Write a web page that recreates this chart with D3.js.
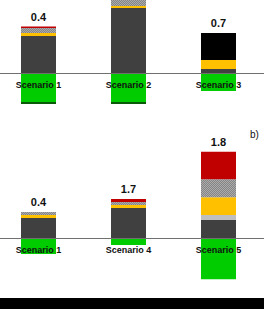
<!DOCTYPE html>
<html>
<head>
<meta charset="utf-8">
<script src="https://cdn.jsdelivr.net/npm/d3@7"></script>
<style>
  body { margin: 0; background: #fff; }
  svg { display: block; }
</style>
</head>
<body>
<div id="chart"></div>
<script>
// Segment keys, bottom of stack first
var keys = ['dark', 'lightgrey', 'yellow', 'hatch', 'red', 'black', 'green', 'darkgreen']

// Panel a)
var scenariosA = ['Scenario 1', 'Scenario 2', 'Scenario 3']
var totalsA = ['0.4', '', '0.7']
var darkA = [1.48, 2.6, 0.16]
var lightgreyA = [0, 0, 0]
var yellowA = [0.12, 0.08, 0.36]
var hatchA = [0.2, 0.32, 0]
var redA = [0.06, 0, 0]
var blackA = [0, 0, 1.08]
var greenA = [-1.16, -1.16, -0.72]
var darkgreenA = [-0.08, -0.08, 0]

// Panel b)
var scenariosB = ['Scenario 1', 'Scenario 4', 'Scenario 5']
var totalsB = ['0.4', '1.7', '1.8']
var darkB = [0.8, 1.2, 0.72]
var lightgreyB = [0, 0, 0.2]
var yellowB = [0.12, 0.12, 0.71]
var hatchB = [0.12, 0.12, 0.72]
var redB = [0, 0.12, 1.1]
var blackB = [0, 0, 0]
var greenB = [-0.64, -0.28, -1.65]
var darkgreenB = [0, 0, 0]

var width = 264
var height = 309
var barWidth = 35

var colors = {
  dark: '#404040',
  lightgrey: '#bfbfbf',
  yellow: '#ffc000',
  hatch: 'url(#hatch)',
  red: '#c00000',
  black: '#000000',
  green: '#00cc00',
  darkgreen: '#0a5a0a'
}

var svg = d3.select('#chart').append('svg')
  .attr('width', width)
  .attr('height', height)

// Fine grey texture for the hatched segment
var defs = svg.append('defs')
var pat = defs.append('pattern')
  .attr('id', 'hatch')
  .attr('width', 2)
  .attr('height', 2)
  .attr('patternUnits', 'userSpaceOnUse')
pat.append('rect').attr('width', 2).attr('height', 2).attr('fill', '#858585')
pat.append('rect').attr('width', 1).attr('height', 1).attr('fill', '#ababab')
pat.append('rect').attr('x', 1).attr('y', 1).attr('width', 1).attr('height', 1).attr('fill', '#ababab')

function buildRows(names, cols) {
  return names.map(function (n, i) {
    var row = { name: n, idx: i }
    keys.forEach(function (k, j) { row[k] = cols[j][i] })
    return row
  })
}

function drawPanel(names, totals, cols, zeroY) {
  var rows = buildRows(names, cols)

  var x = d3.scalePoint()
    .domain(d3.range(names.length))
    .range([38.5, 218.5])

  // 25 px per unit, zero at the panel's axis
  var y = d3.scaleLinear()
    .domain([-2, 2])
    .range([zeroY + 50, zeroY - 50])

  var series = d3.stack()
    .keys(keys)
    .offset(d3.stackOffsetDiverging)(rows)

  var g = svg.append('g')

  g.selectAll('.layer')
    .data(series)
    .enter().append('g')
    .attr('class', 'layer')
    .attr('fill', function (d) { return colors[d.key] })
    .selectAll('rect')
    .data(function (d) { return d })
    .enter().append('rect')
    .attr('x', function (d) { return x(d.data.idx) - barWidth / 2 })
    .attr('width', barWidth)
    .attr('y', function (d) { return Math.min(y(d[0]), y(d[1])) })
    .attr('height', function (d) { return Math.abs(y(d[0]) - y(d[1])) })

  // Zero line
  g.append('line')
    .attr('x1', 0)
    .attr('x2', width)
    .attr('y1', y(0) + 0.5)
    .attr('y2', y(0) + 0.5)
    .attr('stroke', '#707070')
    .attr('stroke-width', 1)

  // Scenario labels
  g.selectAll('.name')
    .data(rows)
    .enter().append('text')
    .attr('class', 'name')
    .attr('x', function (d) { return x(d.idx) })
    .attr('y', y(0) + 14.5)
    .attr('text-anchor', 'middle')
    .attr('font-family', 'Liberation Sans, Arial, sans-serif')
    .attr('font-weight', 'bold')
    .attr('font-size', 9)
    .attr('fill', '#111')
    .text(function (d) { return d.name })

  // Totals above the stacks
  g.selectAll('.total')
    .data(rows)
    .enter().append('text')
    .attr('class', 'total')
    .attr('x', function (d) { return x(d.idx) })
    .attr('y', function (d) {
      var top = d3.sum(keys, function (k) { return d[k] > 0 ? d[k] : 0 })
      return y(top) - 6
    })
    .attr('text-anchor', 'middle')
    .attr('font-family', 'Liberation Sans, Arial, sans-serif')
    .attr('font-weight', 'bold')
    .attr('font-size', 11)
    .attr('fill', '#111')
    .text(function (d) { return totals[d.idx] })
}

drawPanel(scenariosA, totalsA,
  [darkA, lightgreyA, yellowA, hatchA, redA, blackA, greenA, darkgreenA], 73)
drawPanel(scenariosB, totalsB,
  [darkB, lightgreyB, yellowB, hatchB, redB, blackB, greenB, darkgreenB], 238)

svg.append('text')
  .attr('x', 250)
  .attr('y', 138)
  .attr('font-family', 'Liberation Sans, Arial, sans-serif')
  .attr('font-size', 10)
  .attr('fill', '#111')
  .text('b)')

// Black strip along the bottom edge
svg.append('rect')
  .attr('x', 0)
  .attr('y', 298)
  .attr('width', width)
  .attr('height', 11)
  .attr('fill', '#000')
</script>
</body>
</html>
